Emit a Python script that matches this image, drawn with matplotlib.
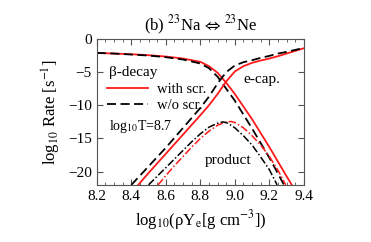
import matplotlib
matplotlib.use('Agg')
import matplotlib.pyplot as plt
from matplotlib.ticker import MultipleLocator

plt.rcParams['font.family'] = 'Liberation Serif'
plt.rcParams['mathtext.fontset'] = 'stix'

# beta-decay rates
x_beta_scr = [8.2, 8.3, 8.4, 8.5, 8.6, 8.7, 8.8, 8.85, 8.9, 8.95, 9.0, 9.05, 9.1, 9.15, 9.2, 9.25, 9.3, 9.33]
beta_scr = [-2.1, -2.2, -2.3, -2.45, -2.65, -2.95, -3.45, -4.1, -5.1, -6.6, -8.3, -10.2, -12.1, -14.2, -16.3, -18.5, -20.7, -22.0]
x_beta_noscr = [8.2, 8.3, 8.4, 8.5, 8.6, 8.7, 8.8, 8.85, 8.9, 8.95, 9.0, 9.05, 9.1, 9.15, 9.2, 9.25, 9.285]
beta_noscr = [-2.1, -2.2, -2.35, -2.5, -2.75, -3.1, -3.7, -4.4, -5.7, -7.5, -9.3, -11.4, -13.5, -15.7, -17.9, -20.3, -22.0]

# electron capture rates
x_ecap_scr = [8.44, 8.5, 8.6, 8.7, 8.8, 8.85, 8.9, 8.95, 9.0, 9.05, 9.1, 9.15, 9.2, 9.25, 9.3, 9.35, 9.4]
ecap_scr = [-22.0, -20.2, -17.3, -14.4, -11.5, -10.0, -8.3, -6.4, -4.9, -4.1, -3.6, -3.25, -2.95, -2.6, -2.2, -1.8, -1.4]
x_ecap_noscr = [8.4, 8.45, 8.5, 8.55, 8.6, 8.65, 8.7, 8.75, 8.8, 8.85, 8.9, 8.95, 9.0, 9.05, 9.1, 9.15, 9.2, 9.25, 9.3, 9.35, 9.4]
ecap_noscr = [-22.0, -20.6, -19.2, -17.8, -16.4, -14.9, -13.4, -11.9, -10.4, -8.7, -6.7, -5.0, -4.0, -3.5, -3.2, -2.85, -2.55, -2.2, -1.95, -1.65, -1.35]

# product
x_prod_scr = [8.555, 8.6, 8.65, 8.7, 8.75, 8.8, 8.85, 8.9, 8.95, 8.98, 9.0, 9.05, 9.1, 9.15, 9.2, 9.25, 9.295]
prod_scr = [-22.0, -20.6, -19.1, -17.7, -16.3, -15.0, -13.9, -13.0, -12.5, -12.45, -12.6, -13.4, -14.6, -16.0, -17.7, -19.8, -22.0]
x_prod_noscr = [8.5, 8.55, 8.6, 8.65, 8.7, 8.75, 8.8, 8.85, 8.9, 8.93, 8.96, 9.0, 9.05, 9.1, 9.15, 9.2, 9.245]
prod_noscr = [-22.0, -20.7, -19.4, -18.1, -16.8, -15.5, -14.3, -13.3, -12.7, -12.5, -12.7, -13.4, -14.6, -16.0, -17.8, -19.7, -22.0]

fig = plt.figure(figsize=(3.71, 2.42), dpi=100)
ax = fig.add_axes([0.261, 0.236, 0.558, 0.603])

red = '#ff1a1a'
dash = (0, (5, 2.5))
dashdot = (0, (5, 1.5, 1, 1.5))
ax.plot(x_beta_scr, beta_scr, color=red, lw=1.3, label='with scr.')
ax.plot(x_beta_noscr, beta_noscr, color='black', lw=1.3, ls=dash, label='w/o scr.')
ax.plot(x_ecap_scr, ecap_scr, color=red, lw=1.3)
ax.plot(x_ecap_noscr, ecap_noscr, color='black', lw=1.3, ls=dash)
ax.plot(x_prod_scr, prod_scr, color=red, lw=1.1, ls=dashdot)
ax.plot(x_prod_noscr, prod_noscr, color='black', lw=1.1, ls=dashdot)

ax.set_xlim(8.2, 9.4)
ax.set_ylim(-22, 0)
ax.xaxis.set_major_locator(MultipleLocator(0.2))
ax.xaxis.set_minor_locator(MultipleLocator(0.05))
ax.yaxis.set_major_locator(MultipleLocator(5))
ax.tick_params(which='both', direction='in', top=True, right=True, labelsize=11, color='#555555')
ax.tick_params(which='major', length=4)
ax.tick_params(which='minor', length=2)
for s in ax.spines.values():
    s.set_color('#555555')

ax.set_title(r'(b) $^{23}$Na$\,\Leftrightarrow\,$$^{23}$Ne', fontsize=12, pad=6)
ax.set_xlabel(r'log$_{10}$(ρY$_{\rm e}$[g cm$^{-3}$])', fontsize=12)
ax.set_ylabel(r'log$_{10}$ Rate [s$^{-1}$]', fontsize=12)

ax.text(0.06, 0.767, 'β-decay', transform=ax.transAxes, fontsize=11, va='center')
ax.legend(loc='upper left', bbox_to_anchor=(0.05, 0.70), frameon=False, fontsize=10.5,
          handlelength=2.8, handletextpad=0.6, labelspacing=0.2,
          borderpad=0, borderaxespad=0)
ax.text(0.71, 0.72, 'e-cap.', transform=ax.transAxes, fontsize=11, va='center')
ax.text(0.06, 0.40, r'log$_{10}$T=8.7', transform=ax.transAxes, fontsize=10, va='center')
ax.text(0.52, 0.17, 'product', transform=ax.transAxes, fontsize=11, va='center')

fig.savefig('out.png', dpi=100)
